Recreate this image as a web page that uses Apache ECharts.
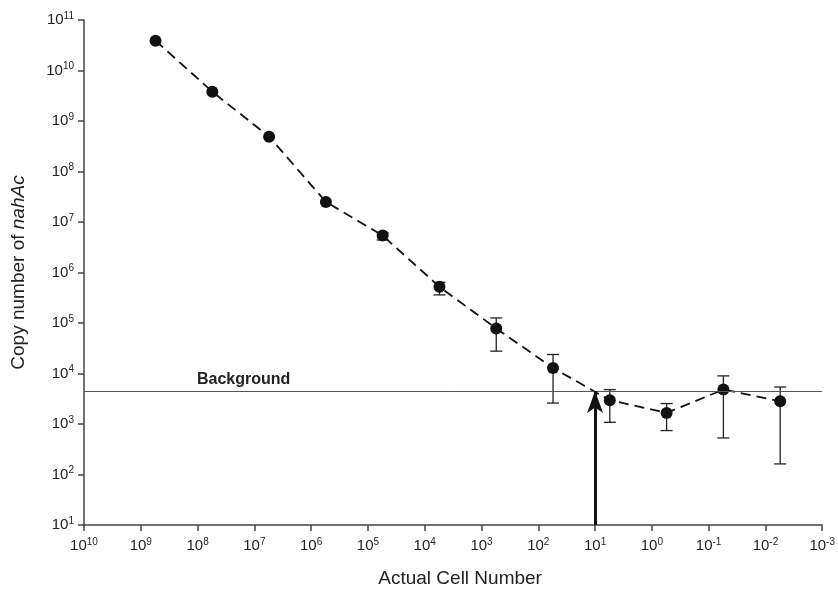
<!DOCTYPE html>
<html>
<head>
<meta charset="utf-8">
<script src="https://cdn.jsdelivr.net/npm/echarts@6/dist/echarts.min.js"></script>
<style>
html,body{margin:0;padding:0;background:#fff;}
#chart{width:838px;height:593px;}
</style>
</head>
<body>
<div id="chart"></div>
<script>
// ---- data ----
const xTickExps = [10, 9, 8, 7, 6, 5, 4, 3, 2, 1, 0, -1, -2, -3];
const yTickExps = [1, 2, 3, 4, 5, 6, 7, 8, 9, 10, 11];
const cellNumbers = [5.5e8, 5.5e7, 5.5e6, 5.5e5, 5.5e4, 5.5e3, 550, 55, 5.5, 0.55, 0.055, 0.0055];
const copyNumbers = [3.9e10, 3.8e9, 4.9e8, 2.5e7, 5.4e6, 5.2e5, 7.8e4, 1.29e4, 2.96e3, 1.66e3, 4.8e3, 2.83e3];
const errLow  = [null, null, null, null, 4.4e6, 3.6e5, 2.77e4, 2.6e3, 1.08e3, 741, 530, 162];
const errHigh = [null, null, null, null, 6.1e6, 6.4e5, 1.26e5, 2.38e4, 4.8e3, 2.54e3, 8.97e3, 5.4e3];
const backgroundLevel = 4500;
const backgroundLabel = 'Background';
const detectionLimit = 10;
const xTitle = 'Actual Cell Number';
const yTitle = 'Copy number of {i|nahAc}';

// ---- build ----
const FONT = 'Liberation Sans, Arial, sans-serif';
const mainData = cellNumbers.map((x, i) => [x, copyNumbers[i]]);
const errData = cellNumbers.map((x, i) => [x, errLow[i], errHigh[i]]).filter(d => d[1] != null);

function expLabel(list) {
  return function (v) {
    const e = Math.round(Math.log10(v));
    if (list.indexOf(e) < 0) return '';
    return '{b|10}{s|' + e + '}';
  };
}
const richTick = {
  b: { fontSize: 15, fontFamily: FONT, color: '#222', lineHeight: 18 },
  s: { fontSize: 10, fontFamily: FONT, color: '#222', lineHeight: 10, verticalAlign: 'top' }
};
const axisLineStyle = { color: '#444', width: 1.5 };

const chart = echarts.init(document.getElementById('chart'), null, { renderer: 'canvas' });
chart.setOption({
  animation: false,
  backgroundColor: '#fff',
  grid: { left: 84, right: 15, top: 20, bottom: 68, containLabel: false },
  xAxis: {
    type: 'log', logBase: 10, min: 1e-3, max: 1e10, interval: 1, inverse: true,
    name: xTitle, nameLocation: 'middle', nameGap: 44,
    nameTextStyle: { fontSize: 19, fontFamily: FONT, color: '#222', padding: [0, 0, 0, 14] },
    axisLine: { show: true, lineStyle: axisLineStyle },
    axisTick: { show: true, length: 6, inside: false, lineStyle: axisLineStyle },
    axisLabel: { formatter: expLabel(xTickExps), rich: richTick, margin: 12, showMinLabel: true, showMaxLabel: true, hideOverlap: false },
    splitLine: { show: false },
    minorTick: { show: false }
  },
  yAxis: {
    type: 'log', logBase: 10, min: 10, max: 1e11, interval: 1,
    name: yTitle, nameLocation: 'middle', nameGap: 56, nameRotate: 90,
    nameTextStyle: { fontSize: 19, fontFamily: FONT, color: '#222',
      rich: { i: { fontSize: 19, fontStyle: 'italic', fontFamily: FONT, color: '#222' } } },
    axisLine: { show: true, lineStyle: axisLineStyle },
    axisTick: { show: true, length: 6, inside: false, lineStyle: axisLineStyle },
    axisLabel: { formatter: expLabel(yTickExps), rich: richTick, margin: 10, showMinLabel: true, showMaxLabel: true, hideOverlap: false },
    splitLine: { show: false }
  },
  series: [
    {
      type: 'custom',
      z: 2,
      clip: false,
      data: errData,
      renderItem: function (params, api) {
        const x = api.value(0);
        const lo = api.coord([x, api.value(1)]);
        const hi = api.coord([x, api.value(2)]);
        const w = 6;
        const st = { stroke: '#222', lineWidth: 1.3 };
        return {
          type: 'group',
          children: [
            { type: 'line', shape: { x1: lo[0], y1: lo[1], x2: hi[0], y2: hi[1] }, style: st },
            { type: 'line', shape: { x1: lo[0] - w, y1: lo[1], x2: lo[0] + w, y2: lo[1] }, style: st },
            { type: 'line', shape: { x1: hi[0] - w, y1: hi[1], x2: hi[0] + w, y2: hi[1] }, style: st }
          ]
        };
      }
    },
    {
      type: 'line',
      z: 3,
      data: mainData,
      symbol: 'circle',
      symbolSize: 12,
      itemStyle: { color: '#111' },
      lineStyle: { color: '#111', width: 1.8, type: [10, 6] },
      markLine: {
        silent: true,
        animation: false,
        symbol: ['none', 'none'],
        lineStyle: { color: '#555', width: 1, type: 'solid' },
        label: { show: false },
        data: [
          [
            { coord: [1e10, backgroundLevel], symbol: 'none',
              label: {
                show: true, position: 'insideStartTop', distance: [113, 3],
                formatter: backgroundLabel,
                fontSize: 16, fontWeight: 'bold', color: '#222', fontFamily: FONT
              } },
            { coord: [1e-3, backgroundLevel], symbol: 'none' }
          ],
          [
            { coord: [detectionLimit, 10], symbol: 'none',
              lineStyle: { color: '#111', width: 3, type: 'solid' }, label: { show: false } },
            { coord: [detectionLimit, backgroundLevel], symbol: 'arrow', symbolSize: [12, 22] }
          ]
        ]
      }
    }
  ]
});
</script>
</body>
</html>
